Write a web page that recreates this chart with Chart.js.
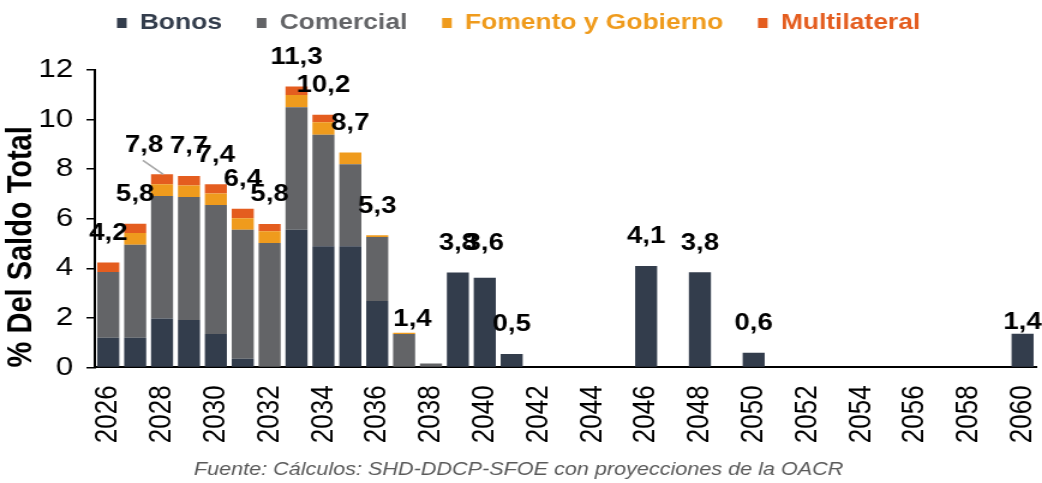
<!DOCTYPE html>
<html>
<head>
<meta charset="utf-8">
<script src="https://cdn.jsdelivr.net/npm/chart.js@4"></script>
<style>
  html, body { margin: 0; padding: 0; background: #fff; overflow: hidden; }
  /* la imagen original está estirada en horizontal (~1.2x) */
  #wrap { width: 868px; height: 483px; transform: scaleX(1.2005); transform-origin: 0 0; }
</style>
</head>
<body>
<div id="wrap"><canvas id="chart" width="868" height="483"></canvas></div>
<script>
// años 2026-2060
const years = [];
for (let y = 2026; y <= 2060; y++) years.push(String(y));

const bonos = [1.2, 1.2, 1.97, 1.91, 1.35, 0.35, 0, 5.55, 4.89, 4.89, 2.68, 0, 0, 3.83, 3.62, 0.54,
  0, 0, 0, 0, 4.09, 0, 3.84, 0, 0.59, 0, 0, 0, 0, 0, 0, 0, 0, 0, 1.36];
const comercial = [2.65, 3.75, 4.95, 4.97, 5.2, 5.2, 5.02, 4.95, 4.5, 3.31, 2.58, 1.35, 0.16, 0, 0, 0,
  0, 0, 0, 0, 0, 0, 0, 0, 0, 0, 0, 0, 0, 0, 0, 0, 0, 0, 0];
const fomento = [0, 0.47, 0.47, 0.46, 0.47, 0.47, 0.47, 0.49, 0.5, 0.47, 0.07, 0.05, 0, 0, 0, 0,
  0, 0, 0, 0, 0, 0, 0, 0, 0, 0, 0, 0, 0, 0, 0, 0, 0, 0, 0];
const multilateral = [0.38, 0.38, 0.4, 0.38, 0.37, 0.38, 0.3, 0.34, 0.3, 0, 0, 0, 0, 0, 0, 0,
  0, 0, 0, 0, 0, 0, 0, 0, 0, 0, 0, 0, 0, 0, 0, 0, 0, 0, 0];
const yTicks = [0, 2, 4, 6, 8, 10, 12];

const colores = {
  bonos: '#333d4c',
  comercial: '#636467',
  fomento: '#ef9b1d',
  multilateral: '#e45d1f'
};

const FONT = '"Liberation Sans", Arial, sans-serif';

// ajustes de posición de etiquetas (dx, dy) por año
const labelNudge = {
  '2028': [-15, 0],
  '2037': [7, 16],
  '2040': [0, -5],
  '2060': [0, 18]
};

const totalLabels = {
  id: 'totalLabels',
  afterDatasetsDraw(chart) {
    const ctx = chart.ctx;
    const xs = chart.scales.x, ys = chart.scales.y;
    ctx.save();
    ctx.font = 'bold 23px ' + FONT;
    ctx.fillStyle = '#000';
    ctx.textAlign = 'center';
    ctx.textBaseline = 'middle';
    years.forEach((yr, i) => {
      const total = bonos[i] + comercial[i] + fomento[i] + multilateral[i];
      if (total < 0.3) return;
      const x = xs.getPixelForValue(i);
      const top = ys.getPixelForValue(total);
      const n = labelNudge[yr] || [0, 0];
      if (yr === '2028') {
        // línea guía
        ctx.strokeStyle = '#a6a6a6';
        ctx.lineWidth = 1.5;
        ctx.beginPath();
        ctx.moveTo(x - 16, top - 14);
        ctx.lineTo(x + 1, top);
        ctx.stroke();
      }
      ctx.fillText(total.toFixed(1).replace('.', ','), x + n[0], top - 29 + n[1]);
    });
    ctx.restore();
  }
};

// subir la leyenda sin cambiar el área del gráfico
const legendShift = {
  id: 'legendShift',
  afterLayout(chart) {
    chart.legend.top -= 26;
    chart.legend.bottom -= 26;
  }
};

function serie(label, data, color) {
  return {
    label: label,
    data: data,
    backgroundColor: color,
    borderWidth: 0,
    barPercentage: 0.82,
    categoryPercentage: 1
  };
}

new Chart(document.getElementById('chart'), {
  type: 'bar',
  data: {
    labels: years,
    datasets: [
      serie('Bonos', bonos, colores.bonos),
      serie('Comercial', comercial, colores.comercial),
      serie('Fomento y Gobierno', fomento, colores.fomento),
      serie('Multilateral', multilateral, colores.multilateral)
    ]
  },
  options: {
    responsive: false,
    animation: false,
    layout: { padding: { left: 1, right: 5, top: 9, bottom: 0 } },
    plugins: {
      legend: {
        position: 'top',
        labels: {
          boxWidth: 8,
          boxHeight: 10,
          padding: 29,
          font: { size: 22, weight: 'bold', family: FONT },
          generateLabels(chart) {
            const items = Chart.defaults.plugins.legend.labels.generateLabels(chart);
            items.forEach(it => { it.fontColor = it.fillStyle; it.lineWidth = 0; });
            return items;
          }
        }
      },
      title: {
        display: true,
        position: 'bottom',
        text: 'Fuente: Cálculos: SHD-DDCP-SFOE con proyecciones de la OACR',
        color: '#595959',
        font: { size: 18, style: 'italic', weight: 'normal', family: FONT },
        padding: { top: 0, bottom: 2 }
      },
      tooltip: { enabled: false }
    },
    scales: {
      x: {
        stacked: true,
        grid: { display: false, drawTicks: false },
        border: { color: '#000', width: 2 },
        afterFit(scale) {
          scale.paddingLeft = 0;
          scale.paddingRight = 0;
          scale.height = 92;
        },
        ticks: {
          autoSkip: false,
          minRotation: 90,
          maxRotation: 90,
          padding: 18,
          color: '#000',
          font: { size: 26, family: FONT },
          callback: (v, i) => (i % 2 === 0 ? years[i] : '')
        }
      },
      y: {
        stacked: true,
        min: 0,
        max: 12,
        afterBuildTicks: axis => { axis.ticks = yTicks.map(v => ({ value: v })); },
        afterFit(scale) { scale.width = 78; },
        grid: { drawOnChartArea: false, drawTicks: true, tickLength: 7, color: '#000', lineWidth: 1.5 },
        border: { color: '#000', width: 2 },
        ticks: {
          padding: 11,
          color: '#000',
          font: { size: 26, family: FONT }
        },
        title: {
          display: true,
          align: 'start',
          text: '% Del Saldo Total',
          color: '#000',
          font: { size: 29, weight: 'bold', family: FONT },
          padding: { top: 0, bottom: 0 }
        }
      }
    }
  },
  plugins: [totalLabels, legendShift]
});
</script>
</body>
</html>
